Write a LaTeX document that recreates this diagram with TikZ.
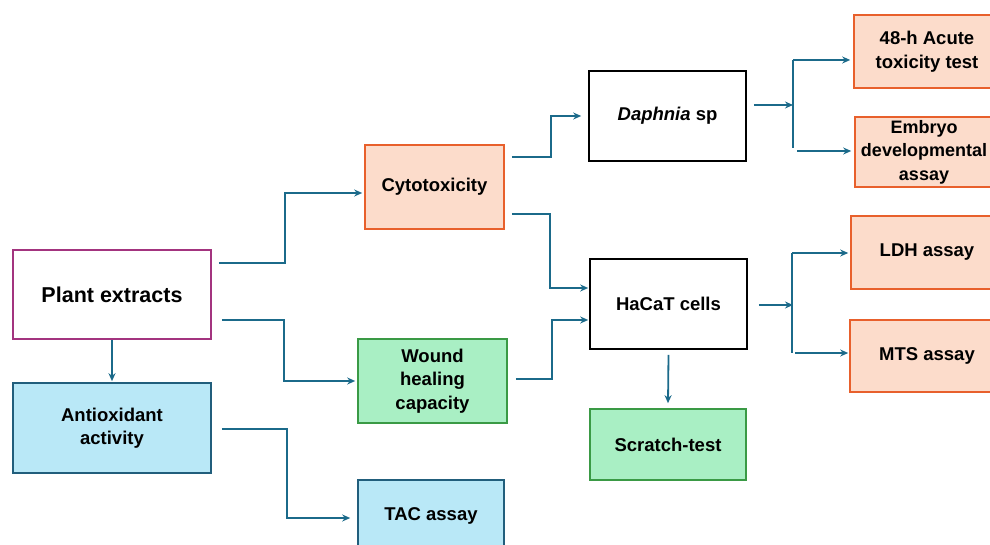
\documentclass[tikz,border=0pt]{standalone}
\usepackage{fontspec}
\setmainfont{Liberation Sans}
\usetikzlibrary{arrows.meta,calc}
\definecolor{lnk}{HTML}{1B6A8A}
\definecolor{peachF}{HTML}{FCDCCB}
\definecolor{peachB}{HTML}{E8602C}
\definecolor{greenF}{HTML}{A9EFC4}
\definecolor{greenB}{HTML}{3A9A45}
\definecolor{blueF}{HTML}{B9E8F7}
\definecolor{blueB}{HTML}{215E7C}
\definecolor{magB}{HTML}{A3347F}
\tikzset{
  box/.style={rectangle, draw, line width=1.6pt, align=center, inner sep=2pt,
    font=\fontsize{18.5}{23.5}\selectfont\bfseries},
  peach/.style={box, fill=peachF, draw=peachB},
  grn/.style={box, fill=greenF, draw=greenB},
  blu/.style={box, fill=blueF, draw=blueB},
  wht/.style={box, fill=white, draw=black},
  arr/.style={draw=lnk, line width=1.8pt, -{Stealth[length=8pt,width=7pt]}},
  ln/.style={draw=lnk, line width=1.8pt},
}
\begin{document}
\begin{tikzpicture}[x=1pt,y=-1pt]
\useasboundingbox (0,0) rectangle (990,545);
% nodes
\node[box, fill=white, draw=magB, minimum width=198pt, minimum height=89pt,
  font=\fontsize{21.5}{26}\selectfont\bfseries] (pe) at (112,294.5) {Plant extracts};
\node[blu, minimum width=198pt, minimum height=90pt] (ao) at (112,428) {Antioxidant\\activity};
\node[peach, minimum width=139pt, minimum height=84pt] (cy) at (434.5,187) {Cytotoxicity};
\node[grn, minimum width=149pt, minimum height=84pt] (wh) at (432.5,381) {Wound\\healing\\capacity};
\node[blu, minimum width=146pt, minimum height=72pt] (tac) at (431,516) {TAC assay};
\node[wht, minimum width=157pt, minimum height=90pt] (da) at (667.5,116) {\textit{Daphnia} sp};
\node[wht, minimum width=157pt, minimum height=90pt] (hc) at (668.5,304) {HaCaT cells};
\node[grn, minimum width=156pt, minimum height=71pt] (sc) at (668,444.5) {Scratch-test};
\node[peach, minimum width=146pt, minimum height=73pt] (ac) at (927,51.5) {48-h Acute\\toxicity test};
\node[peach, minimum width=146pt, minimum height=70pt] (em) at (928,152) {};
\node[font=\fontsize{18}{23.5}\selectfont\bfseries, align=center, inner sep=0pt] (emt) at (924,152) {Embryo\\developmental\\assay};
\node[peach, minimum width=152pt, minimum height=73pt] (ldh) at (927,252.5) {LDH assay};
\node[peach, minimum width=154pt, minimum height=72pt] (mts) at (927,356) {MTS assay};
% junction coordinates
\coordinate (j1) at (793,105);
\coordinate (j2) at (793,305);
% connectors
\draw[arr] ([xshift=7pt]pe.east |- 0,263) -| (285,193) -- ([xshift=-2pt]cy.west |- 0,193);
\draw[arr] ([xshift=10pt]pe.east |- 0,320) -| (284,381) -- ([xshift=-2pt]wh.west |- 0,381);
\draw[arr] (pe.south) -- ([yshift=1pt]ao.north);
\draw[arr] ([xshift=10pt]ao.east |- 0,429) -| (287,518) -- ([xshift=-7pt]tac.west |- 0,518);
\draw[arr] ([xshift=7pt]cy.east |- 0,157) -| (551,116) -- ([xshift=-7pt]da.west |- 0,116);
\draw[arr] ([xshift=7pt]cy.east |- 0,214) -| (550,288) -- ([xshift=-1pt]hc.west |- 0,288);
\draw[arr] ([xshift=8pt]wh.east |- 0,379) -| (552,320) -- ([xshift=-1pt]hc.west |- 0,320);
% Daphnia branch
\draw[arr] ([xshift=7pt]da.east |- j1) -- (j1);
\draw[ln] (793,60) -- (793,148);
\draw[arr] (793,60) -- ([xshift=-3pt]ac.west |- 0,60);
\draw[arr] (797,151) -- ([xshift=-3pt]em.west |- 0,151);
% HaCaT branch
\draw[arr] ([xshift=11pt]hc.east |- j2) -- (j2);
\draw[ln] (792,253) -- (792,353);
\draw[arr] (792,253) -- ([xshift=-2pt]ldh.west |- 0,253);
\draw[arr] (795,353) -- ([xshift=-1pt]mts.west |- 0,353);
\draw[arr] ([yshift=-5pt]hc.south) -- ([yshift=5pt]sc.north);
\end{tikzpicture}
\end{document}
